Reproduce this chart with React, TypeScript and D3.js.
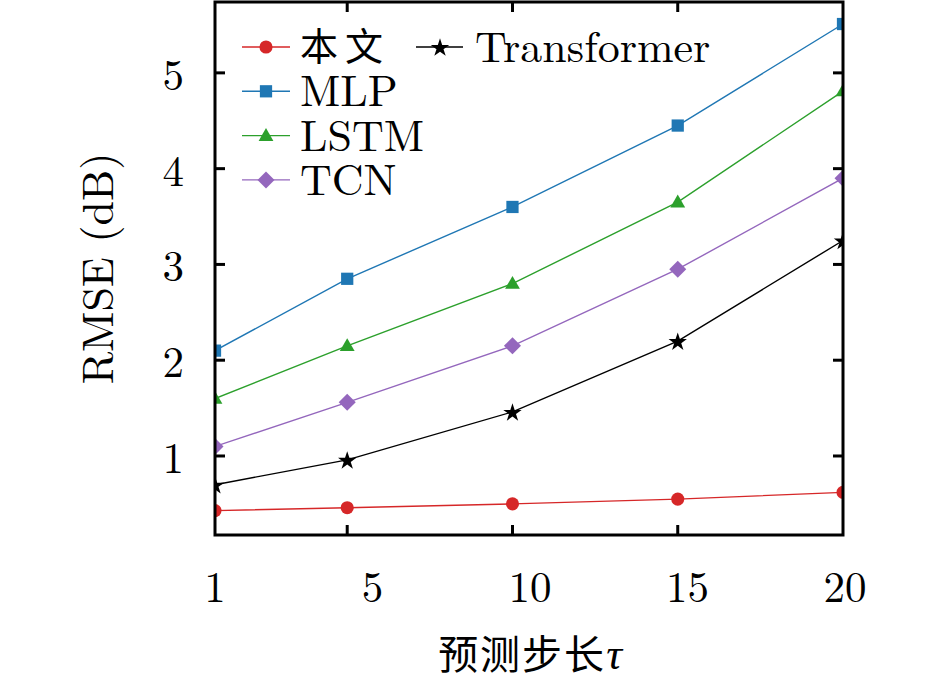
import React from "react";
import * as d3 from "d3";

const steps = [1, 5, 10, 15, 20];
const stepLabels = ["1", "5", "10", "15", "20"];
const oursVals = [0.43, 0.46, 0.5, 0.55, 0.62];
const mlpVals = [2.1, 2.85, 3.6, 4.45, 5.51];
const lstmVals = [1.6, 2.15, 2.8, 3.65, 4.81];
const tcnVals = [1.1, 1.56, 2.15, 2.95, 3.9];
const transformerVals = [0.7, 0.96, 1.46, 2.2, 3.25];
const yTicks = [1, 2, 3, 4, 5];
const seriesNames = ["本文", "MLP", "LSTM", "TCN", "Transformer"];

const W = 945;
const H = 683;
const L = 215, R = 843, T = 2, B = 535;
const SERIF = "Latin Modern Roman";
const CJK = "Noto Sans CJK SC";
const FS = 43;
const LFS = 44;

type Series = { name: string; values: number[]; color: string; marker: string };

const series: Series[] = [
  { name: seriesNames[0], values: oursVals, color: "#d62728", marker: "circle" },
  { name: seriesNames[1], values: mlpVals, color: "#1f77b4", marker: "square" },
  { name: seriesNames[2], values: lstmVals, color: "#2ca02c", marker: "triangle" },
  { name: seriesNames[3], values: tcnVals, color: "#9467bd", marker: "diamond" },
  { name: seriesNames[4], values: transformerVals, color: "#000000", marker: "star" },
];

function markerPath(m: string): { d: string; rot: number } {
  switch (m) {
    case "circle":
      return { d: d3.symbol(d3.symbolCircle, 135)() as string, rot: 0 };
    case "square":
      return { d: d3.symbol(d3.symbolSquare, 150)() as string, rot: 0 };
    case "triangle":
      return { d: d3.symbol(d3.symbolTriangle, 95)() as string, rot: 0 };
    case "diamond":
      return { d: d3.symbol(d3.symbolSquare, 145)() as string, rot: 45 };
    default:
      return { d: d3.symbol(d3.symbolStar, 105)() as string, rot: 0 };
  }
}

function Marker({ x, y, s }: { x: number; y: number; s: Series }) {
  const { d, rot } = markerPath(s.marker);
  const dy = s.marker === "triangle" ? 1 : s.marker === "star" ? 1 : 0;
  return (
    <path
      d={d}
      transform={`translate(${x},${y + dy}) rotate(${rot})`}
      fill={s.color}
      stroke="none"
    />
  );
}

export default function App() {
  const x = d3.scaleLinear().domain([1, 20]).range([L, R]);
  const y = d3.scaleLinear().domain([0.175, 5.74]).range([B, T]);
  const xLab = d3.scalePoint<string>().domain(stepLabels).range([L, R + 2]);
  const line = d3
    .line<number>()
    .x((_, i) => x(steps[i]))
    .y((v) => y(v));

  const legendCol1 = [0, 1, 2, 3];
  const rowY = (i: number) => 47 + i * 44.3;

  return (
    <svg
      width={W}
      height={H}
      style={{ position: "absolute", left: 0, top: 0, background: "#fff" }}
    >
      <rect x={0} y={0} width={W} height={H} fill="#fff" />
      <defs>
        <clipPath id="plotclip">
          <rect x={L} y={T} width={R - L} height={B - T} />
        </clipPath>
      </defs>

      <g clipPath="url(#plotclip)">
        {series.map((s) => (
          <g key={s.name}>
            <path d={line(s.values) as string} fill="none" stroke={s.color} strokeWidth={1.4} />
            {s.values.map((v, i) => (
              <Marker key={i} x={x(steps[i])} y={y(v)} s={s} />
            ))}
          </g>
        ))}
      </g>

      {/* frame */}
      <rect x={L} y={T} width={R - L} height={B - T} fill="none" stroke="#000" strokeWidth={3} />

      {/* x ticks (bottom & top, inward) */}
      {steps.slice(1, -1).map((v) => (
        <g key={"xt" + v}>
          <line x1={x(v)} x2={x(v)} y1={B} y2={B - 10} stroke="#000" strokeWidth={3} />
          <line x1={x(v)} x2={x(v)} y1={T} y2={T + 10} stroke="#000" strokeWidth={3} />
        </g>
      ))}
      {/* y ticks (left & right, inward) */}
      {yTicks.map((v) => (
        <g key={"yt" + v}>
          <line x1={L} x2={L + 10} y1={y(v)} y2={y(v)} stroke="#000" strokeWidth={3} />
          <line x1={R} x2={R - 10} y1={y(v)} y2={y(v)} stroke="#000" strokeWidth={3} />
        </g>
      ))}

      {/* x tick labels */}
      {stepLabels.map((lab) => (
        <text
          key={"xl" + lab}
          x={xLab(lab)}
          y={602}
          textAnchor="middle"
          fontFamily={SERIF}
          fontSize={FS}
          fill="#000"
        >
          {lab}
        </text>
      ))}
      {/* y tick labels */}
      {yTicks.map((v) => (
        <text
          key={"yl" + v}
          x={184}
          y={y(v) + 17}
          textAnchor="end"
          fontFamily={SERIF}
          fontSize={FS}
          fill="#000"
        >
          {v}
        </text>
      ))}

      {/* axis labels */}
      <text
        transform={`translate(${113},${(T + B) / 2}) rotate(-90)`}
        textAnchor="middle"
        fontFamily={SERIF}
        fontSize={LFS}
        fill="#000"
      >
        RMSE (dB)
      </text>
      <text x={530} y={669} textAnchor="middle" fill="#000">
        <tspan fontFamily={CJK} fontSize={40} letterSpacing={2}>预测步长</tspan>
        <tspan fontFamily={SERIF} fontStyle="italic" fontSize={LFS}>τ</tspan>
      </text>

      {/* legend */}
      {legendCol1.map((i) => {
        const s = series[i];
        const yy = rowY(i);
        return (
          <g key={"lg" + i}>
            <line x1={242} x2={290} y1={yy} y2={yy} stroke={s.color} strokeWidth={1.4} />
            <Marker x={266} y={yy} s={s} />
            {i === 0 ? (
              <text x={300} y={yy + 13} fontFamily={CJK} fontSize={38} letterSpacing={7} fill="#000">
                {s.name}
              </text>
            ) : (
              <text x={300} y={yy + 15} fontFamily={SERIF} fontSize={LFS} fill="#000">
                {s.name}
              </text>
            )}
          </g>
        );
      })}
      {(() => {
        const s = series[4];
        const yy = rowY(0);
        return (
          <g>
            <line x1={416} x2={463} y1={yy} y2={yy} stroke={s.color} strokeWidth={1.4} />
            <Marker x={440} y={yy} s={s} />
            <text x={475} y={yy + 15} fontFamily={SERIF} fontSize={LFS} fill="#000">
              {s.name}
            </text>
          </g>
        );
      })()}
    </svg>
  );
}
